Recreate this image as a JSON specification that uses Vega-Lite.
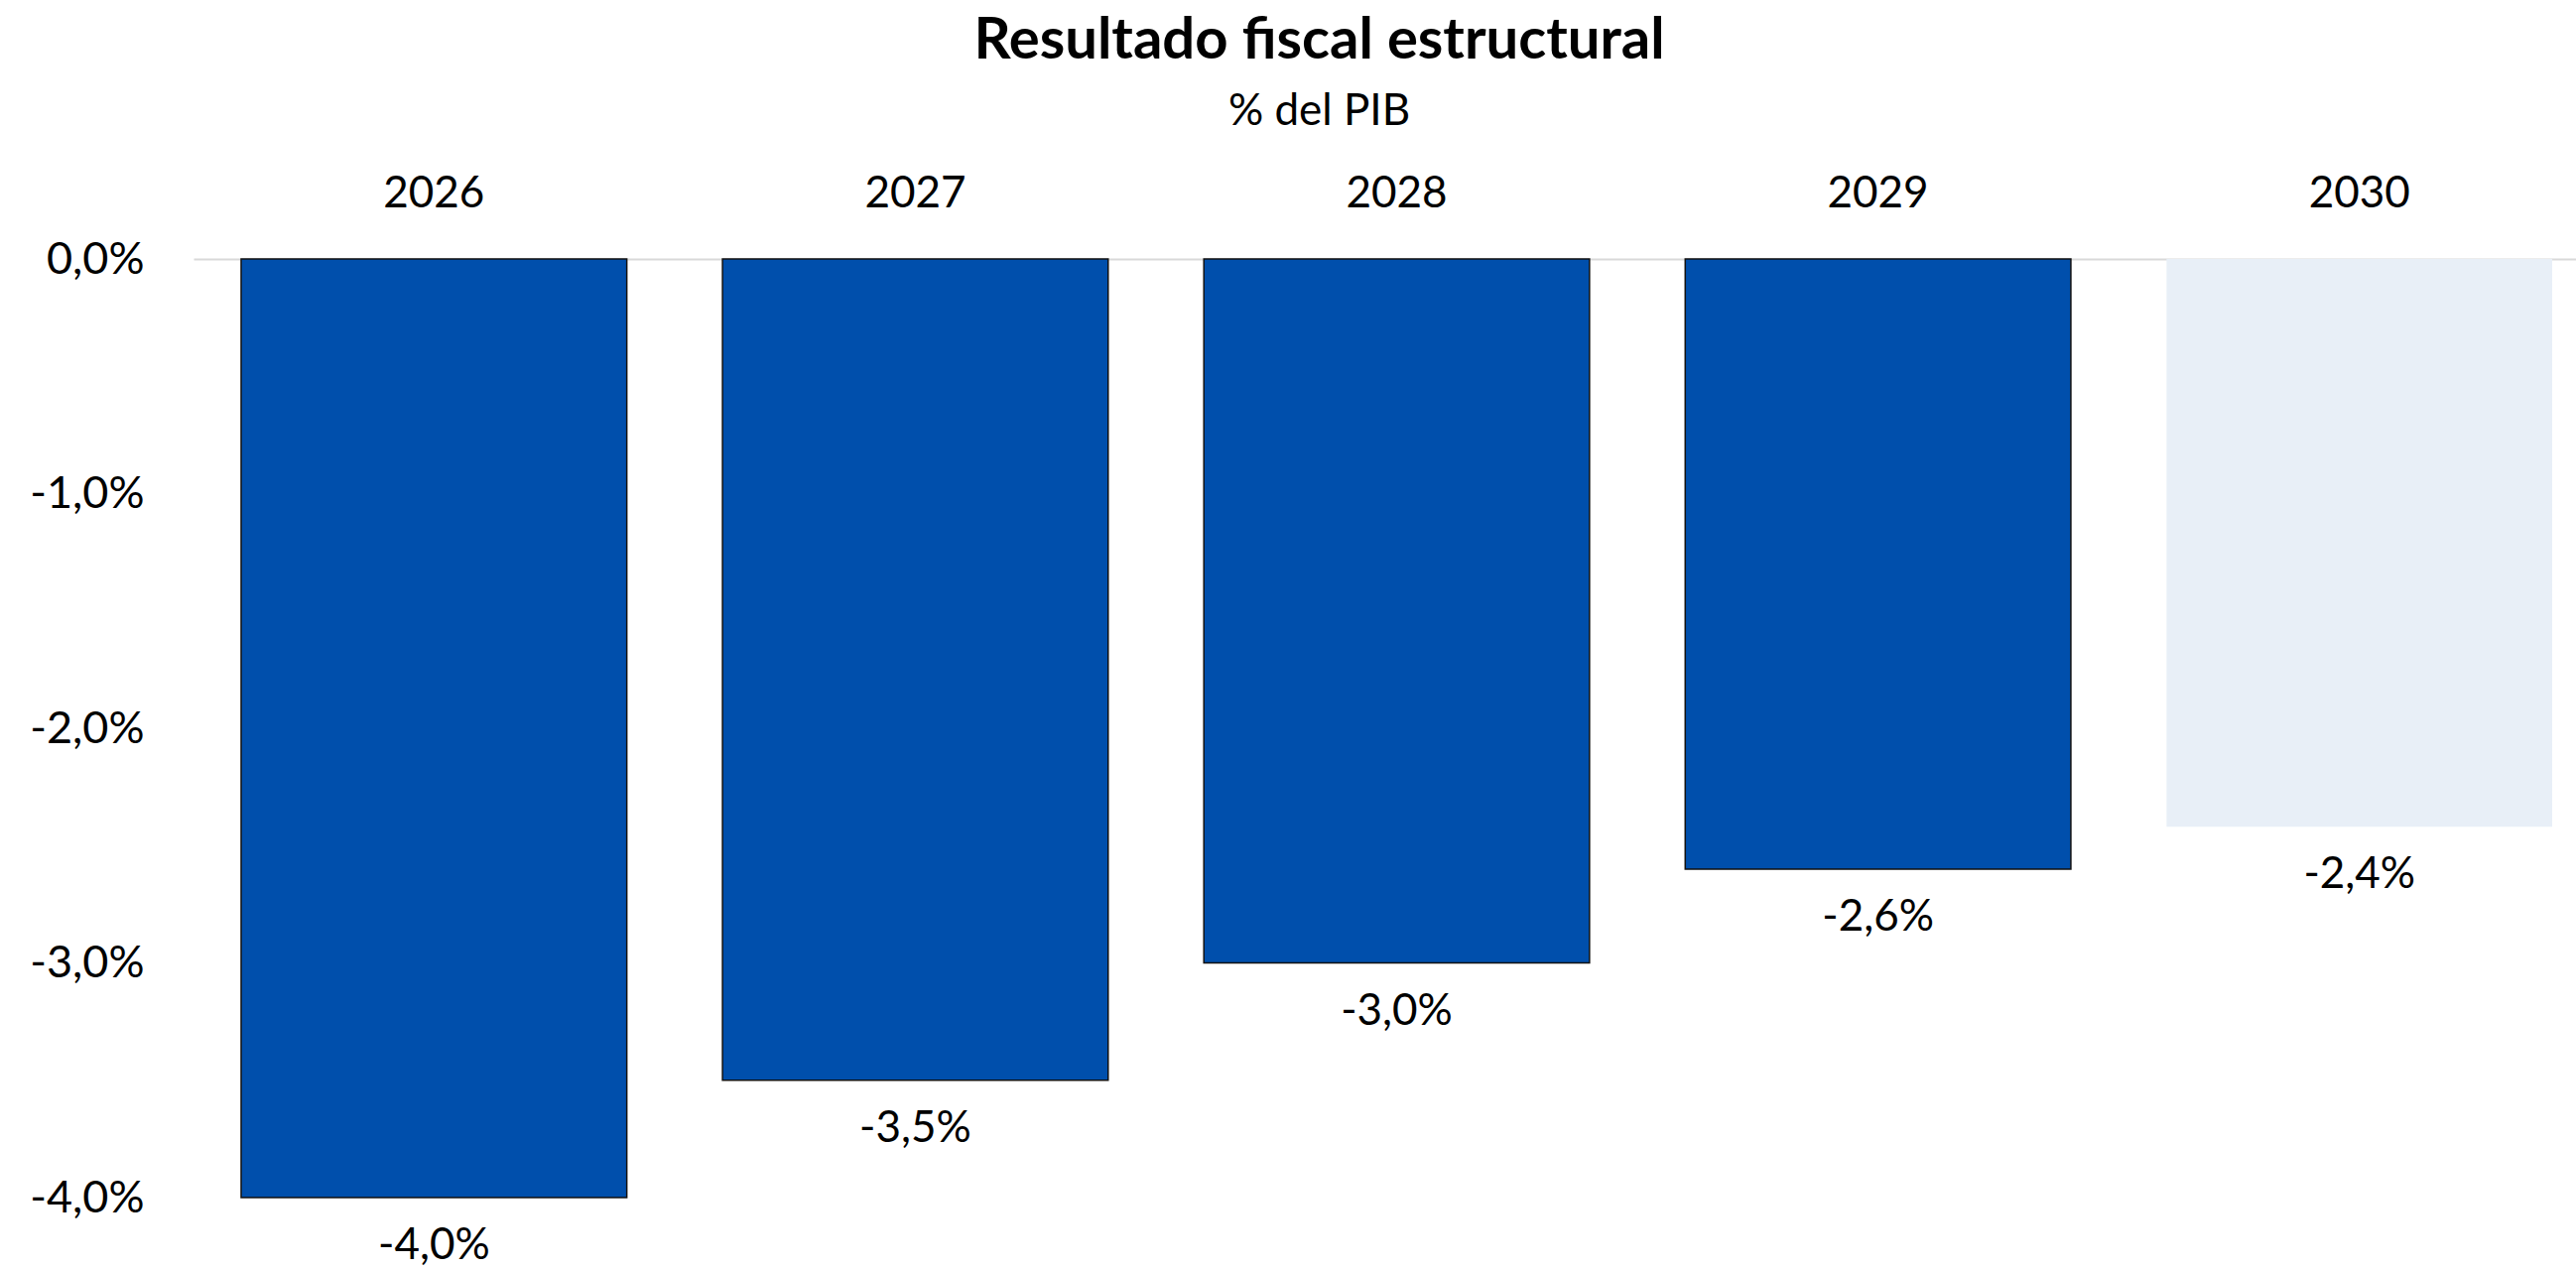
{
  "$schema": "https://vega.github.io/schema/vega-lite/v6.json",
  "autosize": {"type": "none"},
  "width": 2401,
  "height": 946,
  "padding": {"left": 195, "top": 261, "right": 0, "bottom": 72},
  "background": "white",
  "title": {
    "text": "Resultado fiscal estructural",
    "subtitle": "% del PIB",
    "anchor": "middle",
    "frame": "group",
    "dx": -66,
    "offset": 38,
    "font": "Lato",
    "fontSize": 58,
    "fontWeight": "bold",
    "color": "black",
    "subtitleFont": "Lato",
    "subtitleFontSize": 44,
    "subtitleColor": "black",
    "subtitlePadding": 20
  },
  "data": {
    "values": [
      {"year": "2026", "value": -0.040},
      {"year": "2027", "value": -0.035},
      {"year": "2028", "value": -0.030},
      {"year": "2029", "value": -0.026},
      {"year": "2030", "value": -0.0242}
    ]
  },
  "encoding": {
    "x": {
      "field": "year",
      "type": "nominal",
      "sort": null,
      "scale": {"paddingInner": 0.1988, "paddingOuter": 0.0742, "align": 0.667},
      "axis": {
        "orient": "top",
        "title": null,
        "labelAngle": 0,
        "ticks": false,
        "domain": true,
        "domainColor": "#D9D9D9",
        "domainWidth": 2,
        "labelFont": "Lato",
        "labelFontSize": 44,
        "labelColor": "black",
        "labelPadding": 44
      }
    },
    "y": {
      "field": "value",
      "type": "quantitative",
      "scale": {"domain": [-0.04, 0], "nice": false, "zero": false},
      "axis": {
        "title": null,
        "values": [0, -0.01, -0.02, -0.03, -0.04],
        "format": ".1%",
        "grid": false,
        "ticks": false,
        "domain": false,
        "labelFont": "Lato",
        "labelFontSize": 45,
        "labelColor": "black",
        "labelPadding": 50
      }
    }
  },
  "layer": [
    {
      "mark": {"type": "bar", "strokeWidth": 1.5},
      "encoding": {
        "color": {
          "condition": {"test": "datum.year == '2030'", "value": "#E8EFF7"},
          "value": "#004FAC"
        },
        "stroke": {
          "condition": {"test": "datum.year == '2030'", "value": null},
          "value": "#111111"
        }
      }
    },
    {
      "mark": {"type": "text", "baseline": "top", "dy": 27, "font": "Lato", "fontSize": 44, "color": "black"},
      "encoding": {
        "text": {"field": "value", "type": "quantitative", "format": ".1%"}
      }
    }
  ],
  "config": {
    "view": {"stroke": null},
    "locale": {
      "number": {
        "decimal": ",",
        "thousands": ".",
        "grouping": [3],
        "currency": ["", " €"],
        "minus": "-"
      }
    }
  }
}
